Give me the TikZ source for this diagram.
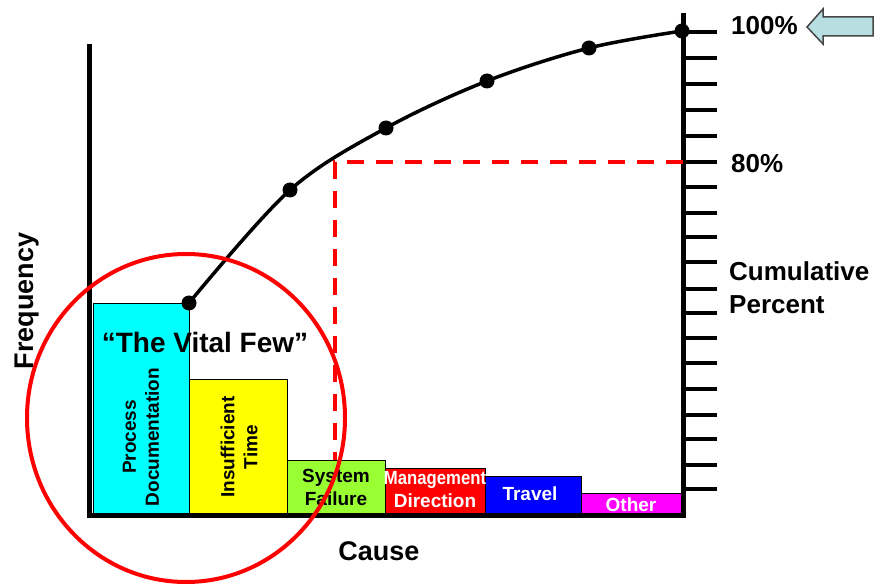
\documentclass[tikz,border=0pt]{standalone}
\usepackage{fontspec}
\usepackage{graphicx}
\setmainfont{Liberation Sans}
\definecolor{proccyan}{RGB}{0,255,255}
\definecolor{timeyellow}{RGB}{255,255,0}
\definecolor{failgreen}{RGB}{153,255,51}
\definecolor{mgmtred}{RGB}{255,0,0}
\definecolor{travelblue}{RGB}{0,0,255}
\definecolor{othermagenta}{RGB}{255,0,255}
\definecolor{cutred}{RGB}{255,0,0}
\definecolor{arrowblue}{RGB}{183,223,226}
\definecolor{arrowedge}{RGB}{70,70,70}

\begin{document}
\begin{tikzpicture}[x=1pt, y=-1pt,
  bar/.style={draw=black, line width=0.8pt},
  barlabel/.style={font=\fontsize{19}{23}\selectfont\bfseries, align=center, inner sep=0pt},
  axislabel/.style={font=\fontsize{27}{32}\selectfont\bfseries, inner sep=0pt},
  pct/.style={font=\fontsize{26}{33}\selectfont\bfseries, align=left, inner sep=0pt},
  axis/.style={line width=5pt},
  tickmark/.style={line width=4.5pt},
  dot/.style={circle, fill=black, inner sep=0pt, minimum size=15pt},
  cum/.style={line width=3.5pt},
  cutoff/.style={draw=cutred, line width=4.5pt, dash pattern=on 17pt off 12pt},
  vital/.style={draw=cutred, line width=4pt},
  pointer/.style={draw=arrowedge, fill=arrowblue, line width=1.5pt, line join=miter},
]
\useasboundingbox (0,0) rectangle (884,585);

% ---------------------------------------------------------------- bars
\draw[bar, fill=proccyan]     (93,303) rectangle (189,515);
\draw[bar, fill=timeyellow]   (189,379) rectangle (287,515);
\draw[bar, fill=failgreen]    (287,460) rectangle (385,515);
\draw[bar, fill=mgmtred]      (385,468) rectangle (485,515);
\draw[bar, fill=travelblue]   (485,476) rectangle (581,515);
\draw[bar, fill=othermagenta] (581,493) rectangle (682,515);
\node[barlabel, rotate=90] (procdoc) at (141,437) {Process\\Documentation};
\node[barlabel, rotate=90] (insuff) at (239,447) {Insufficient\\Time};
\node[barlabel] (sysfail) at (336,487) {System\\Failure};
\node[barlabel, text=white] (mgmt) at (435,490) {\scalebox{0.88}[1]{Management}\\Direction};
\node[barlabel, text=white] (travel) at (530,494) {Travel};
\node[barlabel, text=white] (other) at (631,505) {Other};

% ---------------------------------------------------------------- axes
\draw[axis] (89,44) -- (89,518);
\draw[axis] (87,515) -- (686,515);
\draw[axis] (683,13) -- (683,518);
\foreach \ty in {32,58,84,110,136,162,187,213,237,262,289,313,338,363,389,415,439,465,489}
  \draw[tickmark] (685,\ty) -- (717,\ty);
\node[axislabel, rotate=90] (freq) at (27,301) {Frequency};
\node[axislabel] (cause) at (379,551) {Cause};
\node[pct, anchor=base west] (full) at (731,35) {100\%};
\node[pct, anchor=base west] (eighty) at (731,173) {80\%};
\node[pct, anchor=west] (cumpct) at (729,288) {Cumulative\\Percent};
\draw[pointer] (807,27) -- (823,9) -- (823,17) -- (873,17) -- (873,36)
  -- (823,36) -- (823,44) -- cycle;

% ---------------------------------------------------------------- 80% cut
\coordinate (cutcorner) at (335,162);
\draw[cutoff] (683,162) -- (cutcorner) -- (335,460);

% ---------------------------------------------------------------- cumulative curve
\node[dot] (p1) at (189,303) {};
\node[dot] (p2) at (290,190) {};
\node[dot] (p3) at (386,128) {};
\node[dot] (p4) at (487,81) {};
\node[dot] (p5) at (589,48) {};
\node[dot] (p6) at (682,31) {};
\draw[cum] plot[smooth, tension=0.55] coordinates
  {(p1.center) (p2.center) (p3.center) (p4.center) (p5.center) (p6.center)};

% ---------------------------------------------------------------- vital few
\node[font=\fontsize{28}{32}\selectfont\bfseries, inner sep=0pt, anchor=base] (vitalfew)
  at (205,353) {“The Vital Few”};
\draw[vital] (186,418) ellipse [x radius=159, y radius=164];
\end{tikzpicture}
\end{document}
